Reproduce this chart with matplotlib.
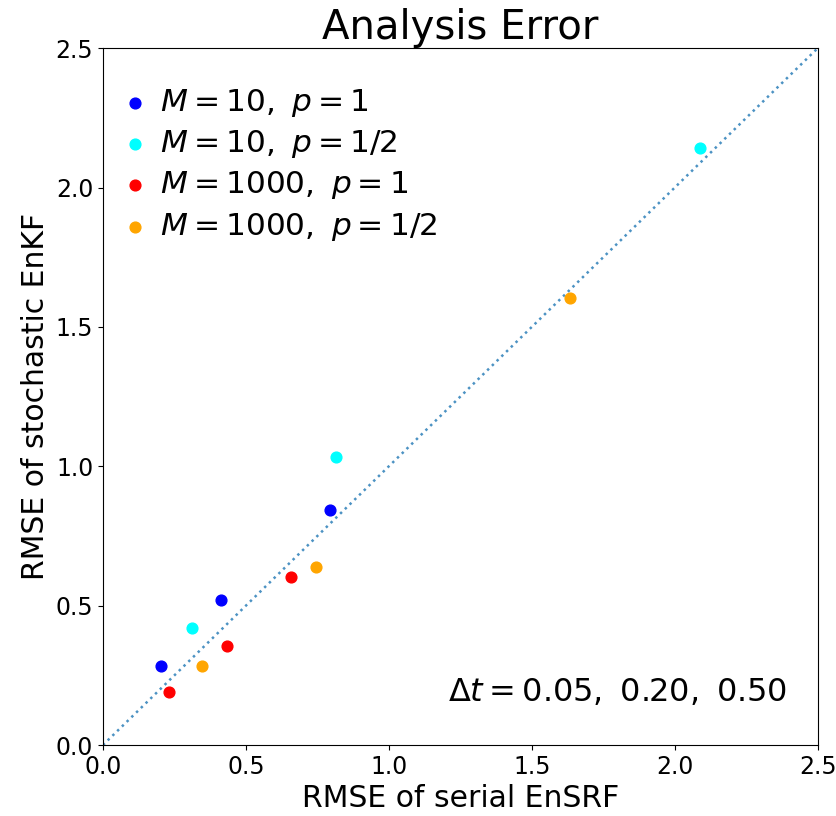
import matplotlib
matplotlib.use("Agg")
import matplotlib.pyplot as plt

# RMSE pairs (serial EnSRF, stochastic EnKF) for dt = 0.05, 0.20, 0.50
m10_p1_x = [0.203, 0.413, 0.794]
m10_p1_y = [0.283, 0.520, 0.843]
m10_half_x = [0.311, 0.815, 2.087]
m10_half_y = [0.420, 1.033, 2.141]
m1000_p1_x = [0.231, 0.434, 0.657]
m1000_p1_y = [0.190, 0.355, 0.603]
m1000_half_x = [0.346, 0.745, 1.633]
m1000_half_y = [0.283, 0.638, 1.603]

series = [
    (m10_p1_x, m10_p1_y, "blue", r"$M=10,\ p=1$"),
    (m10_half_x, m10_half_y, "cyan", r"$M=10,\ p=1/2$"),
    (m1000_p1_x, m1000_p1_y, "red", r"$M=1000,\ p=1$"),
    (m1000_half_x, m1000_half_y, "orange", r"$M=1000,\ p=1/2$"),
]

fig = plt.figure(figsize=(8.37, 8.16), dpi=100)
ax = fig.add_axes([0.123, 0.087, 0.854, 0.854])

ax.plot([0, 2.5], [0, 2.5], linestyle=":", color="tab:blue", alpha=0.8, lw=1.8)
for xs, ys, c, lab in series:
    ax.scatter(xs, ys, color=c, s=60, label=lab, zorder=3)

ax.set_xlim(0, 2.5)
ax.set_ylim(0, 2.5)
ax.set_xticks([0, 0.5, 1.0, 1.5, 2.0, 2.5])
ax.set_yticks([0, 0.5, 1.0, 1.5, 2.0, 2.5])
ax.tick_params(labelsize=17)
ax.set_title("Analysis Error", fontsize=29)
ax.set_xlabel("RMSE of serial EnSRF", fontsize=21.5)
ax.set_ylabel("RMSE of stochastic EnKF", fontsize=21.5)
ax.legend(loc="upper left", bbox_to_anchor=(-0.008, 0.985), fontsize=22.5,
          frameon=False, handletextpad=0.5, handlelength=0.6,
          labelspacing=0.3, borderaxespad=0.5)
ax.text(0.957, 0.076, r"$\Delta t = 0.05,\ 0.20,\ 0.50$", transform=ax.transAxes,
        ha="right", va="center", fontsize=23)

fig.savefig("out.png", dpi=100)
